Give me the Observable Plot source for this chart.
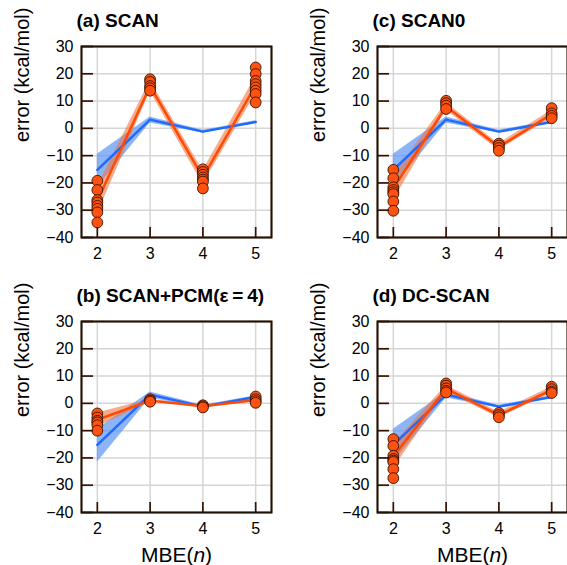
<!DOCTYPE html>
<html><head><meta charset="utf-8">
<script src="https://cdn.jsdelivr.net/npm/d3@7"></script>
<script src="https://cdn.jsdelivr.net/npm/@observablehq/plot@0.6"></script>
<style>
html,body{margin:0;padding:0;background:#fff;}
#wrap{position:relative;width:567px;height:565px;overflow:hidden;}
.cell{position:absolute;overflow:hidden;}
</style></head><body><div id="wrap"></div>
<script>
// ---------- data ----------
const nValues = [2, 3, 4, 5];
const xDomain = [1.7, 5.3];
const yDomain = [-40, 30];
const yTicks = [-40, -30, -20, -10, 0, 10, 20, 30];
const titles = ["(a) SCAN", "(b) SCAN+PCM(ε\u2009=\u20094)", "(c) SCAN0", "(d) DC-SCAN"];
const yLabel = "error (kcal/mol)";
const xLabel = "MBE(n)";

// blue reference curve (same in every panel)
const refMean = [-15.2, 3.2, -1.2, 2.3];
const refLo   = [-21.6, 2.0, -1.7, 1.8];
const refHi   = [-9.5, 4.2, -0.7, 2.8];

// (a) SCAN
const scanDots = [
  [-19.2, -22.6, -26.3, -27.2, -28.4, -29.5, -30.8, -34.5],
  [18.0, 17.0, 15.5, 14.7, 13.8],
  [-15.0, -16.0, -17.0, -18.0, -18.8, -19.5, -22.0],
  [22.3, 19.9, 17.4, 16.2, 15.0, 13.8, 12.6, 9.5]
];
const scanMean = [-26.5, 15.5, -18.0, 15.8];
const scanLo   = [-31.5, 13.5, -20.5, 12.6];
const scanHi   = [-21.5, 17.5, -15.5, 19.0];

// (b) SCAN+PCM(eps=4)
const pcmDots = [
  [-3.7, -5.2, -6.4, -7.0, -8.0, -10.0],
  [1.5, 1.0, 0.6],
  [-0.7, -1.1, -1.5],
  [2.5, 1.5, 0.8, 0.2]
];
const pcmMean = [-6.0, 1.0, -1.1, 1.2];
const pcmLo   = [-8.8, 0.5, -1.5, 0.6];
const pcmHi   = [-3.5, 1.5, -0.7, 1.8];

// (c) SCAN0
const scan0Dots = [
  [-15.2, -18.3, -21.6, -22.6, -23.4, -24.1, -26.8, -30.2],
  [10.1, 9.2, 8.3, 7.1],
  [-5.6, -6.3, -7.2, -8.2],
  [7.4, 5.5, 4.6, 3.7]
];
const scan0Mean = [-22.0, 8.0, -6.8, 5.2];
const scan0Lo   = [-26.5, 6.6, -8.0, 3.8];
const scan0Hi   = [-17.5, 9.4, -5.6, 6.6];

// (d) DC-SCAN
const dcDots = [
  [-13.1, -15.6, -19.2, -20.4, -21.0, -21.5, -24.1, -27.4],
  [7.3, 6.5, 5.5, 4.6, 4.0],
  [-3.5, -4.3, -5.1],
  [6.1, 5.2, 4.3, 3.8]
];
const dcMean = [-19.5, 5.4, -4.3, 4.9];
const dcLo   = [-24.0, 4.2, -5.3, 3.7];
const dcHi   = [-15.0, 6.6, -3.3, 6.1];

// ---------- drawing ----------
const FONT = "'Liberation Sans', Arial, Helvetica, sans-serif";
const BLUE = "#1f6bff", BLUE_BAND = "#5b94f3";
const ORANGE = "#ff4a05", ORANGE_BAND = "#f2743e", DOT = "#ff5210";
const INK_BASE = "#3a1200", INK = "#1c1408";
const PW = 190, PH = 191; // plot area size

function rows(mean, lo, hi) {
  return nValues.map((n, i) => ({n, mean: mean[i], lo: lo[i], hi: hi[i]}));
}
function dotRows(dots) {
  return dots.flatMap((vals, i) => vals.map(v => ({n: nValues[i], v})));
}
function inkMarks(color) {
  return [
    Plot.frame({stroke: color, strokeOpacity: 1, strokeWidth: 1.7}),
    Plot.axisX(nValues, {tickSize: -10, tickPadding: 20, stroke: color, strokeWidth: 1.7, fill: "black", fontSize: 16, label: null}),
    Plot.axisY(yTicks, {tickSize: -12, tickPadding: 20, stroke: color, strokeWidth: 1.7, fill: "black", fontSize: 16, label: null})
  ];
}

function panel({title, mean, lo, hi, dots, left, top, bottom}) {
  const H = bottom ? 290 : 275;
  const ref = rows(refMean, refLo, refHi);
  const cur = rows(mean, lo, hi);
  const grid = {stroke: "#d6d6d6", strokeOpacity: 1, strokeWidth: 1.5};
  const marks = [
    Plot.ruleX(nValues, grid),
    Plot.ruleY(yTicks, grid),
    Plot.areaY(ref, {x: "n", y1: "lo", y2: "hi", fill: BLUE_BAND, fillOpacity: 0.7}),
    Plot.areaY(cur, {x: "n", y1: "lo", y2: "hi", fill: ORANGE_BAND, fillOpacity: 0.6}),
    Plot.lineY(ref, {x: "n", y: "mean", stroke: BLUE, strokeWidth: 2.5}),
    Plot.lineY(cur, {x: "n", y: "mean", stroke: ORANGE, strokeWidth: 2.5}),
    Plot.dot(dotRows(dots), {x: "n", y: "v", r: 5.4, fill: DOT, stroke: "#3a1200", strokeWidth: 0.9}),
    ...inkMarks(INK_BASE),
    Plot.frame({stroke: INK, strokeOpacity: 1, strokeWidth: 1.7}),
    Plot.text([title], {text: d => d, frameAnchor: "top-left", dx: -5, dy: -26, textAnchor: "start", lineAnchor: "middle", fontWeight: "bold", fontSize: 19}),
    Plot.text([yLabel], {text: d => d, frameAnchor: "left", dx: -59, rotate: -90, fontSize: 20, lineAnchor: "middle"})
  ];
  if (bottom) marks.push(Plot.text([xLabel], {text: d => d, frameAnchor: "bottom", dy: 43, fontSize: 21, lineAnchor: "middle"}));
  const svg = Plot.plot({
    width: 286, height: H,
    marginLeft: 81, marginRight: 286 - 81 - PW, marginTop: 46, marginBottom: H - 46 - PH,
    style: "font-family: " + FONT + "; font-size: 16px; max-width: none;",
    x: {domain: xDomain},
    y: {domain: yDomain},
    marks
  });
  if (bottom) {
    const NS = "http://www.w3.org/2000/svg";
    svg.querySelectorAll("text").forEach(t => {
      if (t.textContent === xLabel) {
        t.textContent = "";
        const a = document.createElementNS(NS, "tspan"); a.textContent = "MBE(";
        const b = document.createElementNS(NS, "tspan"); b.textContent = "n"; b.setAttribute("font-style", "italic");
        const c = document.createElementNS(NS, "tspan"); c.textContent = ")";
        t.append(a, b, c);
      }
    });
  }
  const cell = document.createElement("div");
  cell.className = "cell";
  cell.style.left = left + "px";
  cell.style.top = top + "px";
  cell.style.width = "286px";
  cell.style.height = H + "px";
  cell.append(svg);
  document.getElementById("wrap").append(cell);
}

panel({title: titles[0], mean: scanMean, lo: scanLo, hi: scanHi, dots: scanDots, left: 0, top: 0, bottom: false});
panel({title: titles[2], mean: scan0Mean, lo: scan0Lo, hi: scan0Hi, dots: scan0Dots, left: 296, top: 0, bottom: false});
panel({title: titles[1], mean: pcmMean, lo: pcmLo, hi: pcmHi, dots: pcmDots, left: 0, top: 275, bottom: true});
panel({title: titles[3], mean: dcMean, lo: dcLo, hi: dcHi, dots: dcDots, left: 296, top: 275, bottom: true});
</script></body></html>
